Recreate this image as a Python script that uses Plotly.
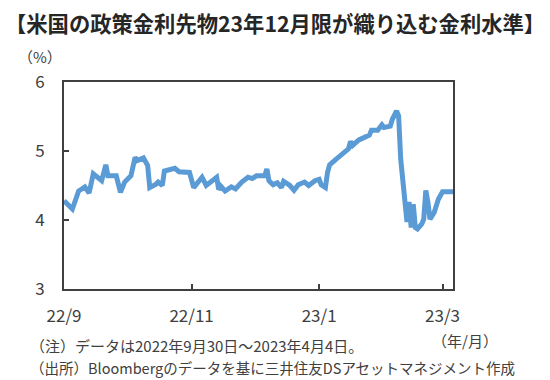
import plotly.graph_objects as go

dates = [
    "2022-09-30", "2022-10-04", "2022-10-07", "2022-10-10", "2022-10-12", "2022-10-14",
    "2022-10-18", "2022-10-20", "2022-10-21", "2022-10-25", "2022-10-27", "2022-10-29",
    "2022-11-01", "2022-11-03", "2022-11-04", "2022-11-07", "2022-11-09", "2022-11-10",
    "2022-11-13", "2022-11-14", "2022-11-16", "2022-11-17", "2022-11-22", "2022-11-24",
    "2022-11-29", "2022-12-01", "2022-12-05", "2022-12-07", "2022-12-12", "2022-12-13",
    "2022-12-14", "2022-12-16", "2022-12-19", "2022-12-21", "2022-12-24", "2022-12-27",
    "2022-12-29", "2022-12-31", "2023-01-04", "2023-01-05", "2023-01-06", "2023-01-08",
    "2023-01-10", "2023-01-12", "2023-01-13", "2023-01-16", "2023-01-18", "2023-01-20",
    "2023-01-23", "2023-01-25", "2023-01-28", "2023-01-30", "2023-01-31", "2023-02-02",
    "2023-02-03", "2023-02-04", "2023-02-07", "2023-02-09", "2023-02-11", "2023-02-13",
    "2023-02-14", "2023-02-15", "2023-02-18", "2023-02-22", "2023-02-23", "2023-02-24",
    "2023-02-27", "2023-03-01", "2023-03-02", "2023-03-05", "2023-03-06", "2023-03-08",
    "2023-03-09", "2023-03-10", "2023-03-12", "2023-03-13", "2023-03-14", "2023-03-15",
    "2023-03-16", "2023-03-17", "2023-03-18", "2023-03-20", "2023-03-21", "2023-03-22",
    "2023-03-23", "2023-03-24", "2023-03-26", "2023-03-28", "2023-03-30", "2023-04-04",
]
rates = [
    4.28, 4.16, 4.42, 4.48, 4.39, 4.67,
    4.57, 4.80, 4.64, 4.64, 4.40, 4.55,
    4.64, 4.91, 4.86, 4.90, 4.79, 4.47,
    4.52, 4.55, 4.50, 4.71, 4.75, 4.70,
    4.69, 4.47, 4.62, 4.50, 4.62, 4.44,
    4.49, 4.42, 4.48, 4.45, 4.55, 4.62,
    4.60, 4.64, 4.64, 4.74, 4.57, 4.51,
    4.54, 4.47, 4.56, 4.50, 4.43, 4.51,
    4.55, 4.50, 4.57, 4.59, 4.51, 4.47,
    4.69, 4.80, 4.88, 4.93, 5.00, 5.03,
    5.14, 5.08, 5.16, 5.22, 5.23, 5.30,
    5.30, 5.38, 5.34, 5.36, 5.46, 5.58,
    5.51, 4.88, 4.21, 3.97, 4.26, 3.89,
    4.23, 3.89, 3.87, 3.94, 4.01, 4.43,
    4.26, 4.01, 4.11, 4.30, 4.41, 4.41,
]

x_tick_vals = ["2022-09-30", "2022-11-30", "2023-01-30", "2023-03-30"]
x_tick_text = ["22/9", "22/11", "23/1", "23/3"]
y_tick_vals = [3, 4, 5, 6]

title_text = "【米国の政策金利先物23年12月限が織り込む金利水準】"
note_lines = [
    "（注）データは2022年9月30日～2023年4月4日。",
    "（出所）Bloombergのデータを基に三井住友DSアセットマネジメント作成",
]

FONT = "Noto Sans CJK JP"
TXT = "#404040"

fig = go.Figure()
fig.add_trace(go.Scatter(
    x=dates, y=rates, mode="lines",
    line=dict(color="#5b9bd5", width=5),
    showlegend=False, hoverinfo="skip",
))

L, R, T, B = 64, 453, 82, 289
W, H = 550, 380

def px(x):
    return (x - L) / (R - L)

def py(y):
    return (B - y) / (B - T)

fig.update_layout(
    width=W, height=H, autosize=False,
    margin=dict(l=L, r=W - R, t=T, b=H - B, pad=0),
    paper_bgcolor="white", plot_bgcolor="white",
    font=dict(family=FONT, color=TXT, size=16),
)
fig.update_xaxes(
    type="date", range=["2022-09-30", "2023-04-04"],
    tickvals=x_tick_vals, ticktext=x_tick_text,
    ticks="inside", ticklen=5, tickwidth=1.5, tickcolor="#404040",
    showline=True, mirror=True, linecolor="#404040", linewidth=2,
    showgrid=False, zeroline=False,
    tickfont=dict(size=17, family=FONT, color=TXT),
    ticklabelstandoff=11,
)
fig.update_yaxes(
    range=[3, 6], tickvals=y_tick_vals,
    ticks="inside", ticklen=5, tickwidth=1.5, tickcolor="#404040",
    showline=True, mirror=True, linecolor="#404040", linewidth=2,
    showgrid=False, zeroline=False,
    tickfont=dict(size=17, family=FONT, color=TXT),
    ticklabelstandoff=14,
)

annotations = [
    dict(text="<b>" + title_text + "</b>", x=px(3), y=py(22), xanchor="left", yanchor="middle",
         font=dict(size=21.3, family=FONT, color="#262626")),
    dict(text="（%）", x=px(40), y=py(57), xanchor="center", yanchor="middle",
         font=dict(size=15, family=FONT, color=TXT)),
    dict(text="（年/月）", x=px(465), y=py(340), xanchor="center", yanchor="middle",
         font=dict(size=15, family=FONT, color=TXT)),
    dict(text=note_lines[0], x=px(28), y=py(345), xanchor="left", yanchor="middle",
         font=dict(size=15, family=FONT, color=TXT)),
    dict(text=note_lines[1], x=px(28), y=py(367), xanchor="left", yanchor="middle",
         font=dict(size=14.5, family=FONT, color=TXT)),
]
for a in annotations:
    a.update(xref="paper", yref="paper", showarrow=False)
fig.update_layout(annotations=annotations)

fig.write_html("out.html")
